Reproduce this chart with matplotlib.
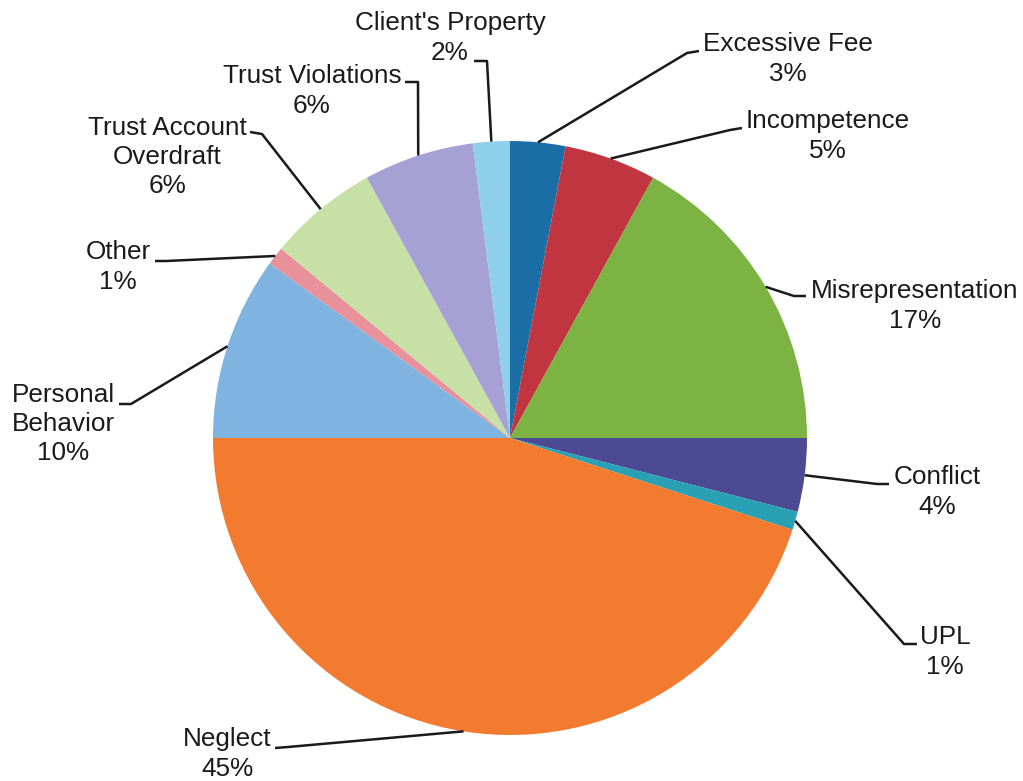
import numpy as np
import matplotlib.pyplot as plt

categorias = ["Excessive Fee", "Incompetence", "Misrepresentation", "Conflict", "UPL",
              "Neglect", "Personal\nBehavior", "Other", "Trust Account\nOverdraft",
              "Trust Violations", "Client's Property"]
porcentajes = [3, 5, 17, 4, 1, 45, 10, 1, 6, 6, 2]
colores = ["#1c6ea6", "#c0353f", "#7db343", "#4b4a92", "#2aa0b4", "#f27b2f",
           "#80b4e0", "#e8919b", "#c6e0a6", "#a6a1d5", "#8ecfe9"]

# posiciones de etiquetas en pixeles (x, y desde arriba): texto, fin de linea, codo
etiquetas = {
    "Excessive Fee": ((788, 59), (699, 51), (687, 53)),
    "Incompetence": ((828, 136), (742, 128), (730, 130)),
    "Misrepresentation": ((915, 306), (806, 296), (794, 296)),
    "Conflict": ((937, 492), (889, 484), (877, 484)),
    "UPL": ((945, 652), (917, 644), (904, 644)),
    "Neglect": ((227, 754), (275, 748), (288, 747)),
    "Personal\nBehavior": ((63, 424), (119, 404), (131, 404)),
    "Other": ((118, 267), (155, 261), (166, 261)),
    "Trust Account\nOverdraft": ((167, 157), (250, 132), (262, 134)),
    "Trust Violations": ((312, 91), (405, 82), (418, 82)),
    "Client's Property": ((450, 38), (474, 61), (487, 61)),
}

W, H = 1023, 781
cx, cy, R = 510, 438, 297

fig = plt.figure(figsize=(W / 100, H / 100), dpi=100)
ax = fig.add_axes([0, 0, 1, 1])

wedges, _ = ax.pie(porcentajes, colors=colores, startangle=90, counterclock=False,
                   center=(cx, H - cy), radius=R, frame=True,
                   wedgeprops=dict(linewidth=0))
ax.set_xlim(0, W)
ax.set_ylim(0, H)
ax.axis("off")

for w, nombre, pct in zip(wedges, categorias, porcentajes):
    ang = np.deg2rad((w.theta1 + w.theta2) / 2)
    px = cx + R * np.cos(ang)
    py = (H - cy) + R * np.sin(ang)
    (tx, ty), (ex, ey), (kx, ky) = etiquetas[nombre]
    ax.plot([ex, kx, px], [H - ey, H - ky, py], color="#1a1a1a", lw=1.8,
            solid_capstyle="butt")
    ax.text(tx, H - ty, f"{nombre}\n{pct}%", ha="center", va="center",
            fontsize=18.8, family="Liberation Sans", color="#1a1a1a",
            linespacing=1.28)

fig.savefig("out.png", dpi=100)
